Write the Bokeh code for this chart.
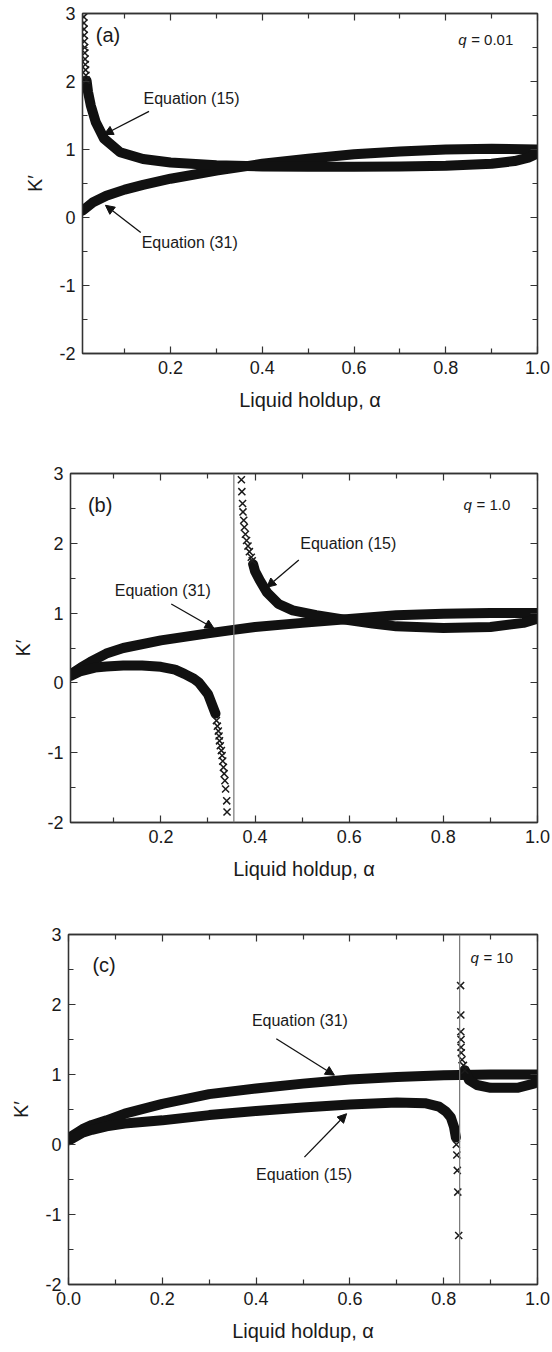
from bokeh.plotting import figure
from bokeh.layouts import column, row
from bokeh.models import (LinearAxis, FixedTicker, PrintfTickFormatter, CustomJSTickFormatter,
                          Range1d, Span, Arrow, NormalHead, Label)
from bokeh.embed import file_html
from bokeh.resources import INLINE

FONT = "Liberation Sans"
INK = "#111111"
AX = "#333333"

# ---------------- data ----------------
x_ticks_ab = [0.2, 0.4, 0.6, 0.8, 1.0]
x_ticks_c = [0.0, 0.2, 0.4, 0.6, 0.8, 1.0]
x_minor = [0.1, 0.3, 0.5, 0.7, 0.9]
y_ticks = [-2, -1, 0, 1, 2, 3]
y_minor = [-1.5, -0.5, 0.5, 1.5, 2.5]

# panel (a)  q = 0.01
a_eq31_alpha = [0.008, 0.03, 0.06, 0.10, 0.14, 0.20, 0.30, 0.40, 0.50, 0.60, 0.70, 0.80, 0.90, 1.00]
a_eq31_k = [0.10, 0.22, 0.32, 0.41, 0.48, 0.57, 0.69, 0.79, 0.865, 0.93, 0.97, 1.00, 1.01, 1.00]
a_eq15_alpha = [0.017, 0.020, 0.026, 0.037, 0.055, 0.09, 0.14, 0.20, 0.30, 0.40, 0.50, 0.60, 0.70, 0.80, 0.90, 0.95, 0.98, 1.00]
a_eq15_k = [2.01, 1.85, 1.65, 1.40, 1.16, 0.96, 0.86, 0.81, 0.77, 0.75, 0.745, 0.745, 0.75, 0.76, 0.79, 0.83, 0.88, 0.94]
a_eq15_pts_alpha = [0.0108, 0.0111, 0.0114, 0.0118, 0.0122, 0.0126, 0.0131, 0.0136, 0.0142, 0.0148, 0.0155, 0.0162]
a_eq15_pts_k = [2.95, 2.86, 2.77, 2.68, 2.59, 2.50, 2.42, 2.33, 2.25, 2.17, 2.09, 2.02]

# panel (b)  q = 1.0
b_asymptote = 0.355
b_eq31_alpha = [0.008, 0.03, 0.05, 0.084, 0.12, 0.20, 0.30, 0.354, 0.40, 0.50, 0.60, 0.70, 0.80, 0.90, 1.00]
b_eq31_k = [0.12, 0.22, 0.30, 0.42, 0.50, 0.61, 0.71, 0.76, 0.80, 0.86, 0.915, 0.97, 0.99, 1.00, 1.00]
b_eq15_left_alpha = [0.008, 0.03, 0.06, 0.084, 0.12, 0.16, 0.20, 0.23, 0.25, 0.27, 0.28, 0.30, 0.316]
b_eq15_left_k = [0.10, 0.17, 0.22, 0.235, 0.25, 0.25, 0.23, 0.19, 0.13, 0.06, 0.01, -0.16, -0.44]
b_eq15_right_alpha = [0.396, 0.40, 0.41, 0.425, 0.45, 0.48, 0.53, 0.587, 0.65, 0.70, 0.80, 0.90, 0.97, 1.00]
b_eq15_right_k = [1.70, 1.60, 1.47, 1.30, 1.13, 1.04, 0.97, 0.91, 0.85, 0.81, 0.785, 0.80, 0.86, 0.92]
b_eq15_low_pts_alpha = [0.3405, 0.3398, 0.3375, 0.336, 0.3344, 0.3329, 0.3314, 0.330, 0.3285, 0.3262, 0.3245, 0.3235, 0.322, 0.320, 0.318]
b_eq15_low_pts_k = [-1.85, -1.69, -1.52, -1.40, -1.30, -1.21, -1.12, -1.04, -0.97, -0.90, -0.83, -0.76, -0.69, -0.62, -0.54]
b_eq15_up_pts_alpha = [0.371, 0.372, 0.3735, 0.3744, 0.376, 0.3773, 0.3795, 0.382, 0.385, 0.388, 0.392, 0.394]
b_eq15_up_pts_k = [2.91, 2.74, 2.57, 2.45, 2.33, 2.23, 2.13, 2.04, 1.96, 1.88, 1.80, 1.75]

# panel (c)  q = 10
c_asymptote = 0.834
c_eq31_alpha = [0.002, 0.03, 0.05, 0.081, 0.12, 0.20, 0.30, 0.40, 0.50, 0.60, 0.70, 0.80, 0.90, 1.00]
c_eq31_k = [0.10, 0.22, 0.28, 0.345, 0.44, 0.58, 0.72, 0.80, 0.87, 0.93, 0.965, 0.99, 1.00, 1.00]
c_eq15_left_alpha = [0.002, 0.03, 0.05, 0.081, 0.12, 0.20, 0.30, 0.40, 0.50, 0.60, 0.70, 0.76, 0.79, 0.805, 0.815, 0.822, 0.826]
c_eq15_left_k = [0.06, 0.17, 0.21, 0.26, 0.30, 0.345, 0.42, 0.48, 0.53, 0.57, 0.60, 0.59, 0.54, 0.47, 0.39, 0.25, 0.10]
c_eq15_right_alpha = [0.845, 0.848, 0.854, 0.871, 0.90, 0.957, 0.992, 1.00]
c_eq15_right_k = [1.06, 1.02, 0.92, 0.85, 0.81, 0.81, 0.87, 0.94]
c_eq15_low_pts_alpha = [0.827, 0.828, 0.829, 0.830, 0.832]
c_eq15_low_pts_k = [0.0, -0.15, -0.37, -0.68, -1.30]
c_eq15_up_pts_alpha = [0.836, 0.8365, 0.8365, 0.837, 0.837, 0.8375, 0.839, 0.842, 0.845]
c_eq15_up_pts_k = [2.27, 1.85, 1.61, 1.50, 1.39, 1.31, 1.21, 1.13, 1.06]

# annotation texts
panel_tags = ["(a)", "(b)", "(c)"]
q_texts = ["= 0.01", "= 1.0", "= 10"]
eq15_text = "Equation (15)"
eq31_text = "Equation (31)"
x_label = "Liquid holdup, \u03b1"
y_label = "K\u2032"


def style_axis(ax, show_labels=True):
    ax.major_tick_in = 7
    ax.major_tick_out = 0
    ax.minor_tick_in = 5
    ax.minor_tick_out = 0
    ax.axis_line_color = AX
    ax.axis_line_width = 1.3
    ax.major_tick_line_color = AX
    ax.minor_tick_line_color = AX
    ax.major_tick_line_width = 1.2
    ax.minor_tick_line_width = 1.2
    if show_labels:
        ax.major_label_text_font = FONT
        ax.major_label_text_font_size = "18px"
        ax.major_label_text_color = "#1a1a1a"
        ax.major_label_standoff = 7
        ax.axis_label_text_font = FONT
        ax.axis_label_text_font_size = "20px"
        ax.axis_label_text_font_style = "normal"
        ax.axis_label_text_color = "#1a1a1a"
    else:
        ax.formatter = CustomJSTickFormatter(code="return '';")
        ax.major_label_standoff = 0


def make_panel(height, x_start, xt, border_left, border_top, border_bottom):
    p = figure(width=552, height=height, x_range=Range1d(x_start, 1.0), y_range=Range1d(-2, 3),
               output_backend="svg", toolbar_location=None,
               min_border_left=border_left, min_border_right=15,
               min_border_top=border_top, min_border_bottom=border_bottom)
    p.grid.visible = False
    p.outline_line_color = AX
    p.outline_line_width = 1.3
    p.background_fill_color = "white"
    p.border_fill_color = "white"

    xa = p.xaxis[0]
    xa.ticker = FixedTicker(ticks=xt, minor_ticks=x_minor)
    xa.formatter = PrintfTickFormatter(format="%.1f")
    xa.axis_label = x_label
    style_axis(xa)
    xa.axis_label_standoff = 12

    ya = p.yaxis[0]
    ya.ticker = FixedTicker(ticks=y_ticks, minor_ticks=y_minor)
    ya.formatter = PrintfTickFormatter(format="%d")
    ya.axis_label = y_label
    style_axis(ya)
    ya.axis_label_standoff = 10

    top = LinearAxis(ticker=FixedTicker(ticks=xt, minor_ticks=x_minor))
    style_axis(top, show_labels=False)
    p.add_layout(top, "above")
    right = LinearAxis(ticker=FixedTicker(ticks=y_ticks, minor_ticks=y_minor))
    style_axis(right, show_labels=False)
    p.add_layout(right, "right")
    return p


def band(p, xs, ys):
    p.line(xs, ys, line_color=INK, line_width=10, line_cap="round", line_join="round")


def pts(p, xs, ys):
    p.scatter(xs, ys, marker="x", size=10, line_color="#1a1a1a", line_width=1.5)


def text(p, x, y, t, size="16px", style="normal"):
    p.add_layout(Label(x=x, y=y, text=t, text_font=FONT, text_font_size=size,
                       text_font_style=style, text_color="#1a1a1a",
                       text_align="left", text_baseline="middle"))


def q_label(p, x, y, t):
    text(p, x, y, "q", size="15px", style="italic")
    p.add_layout(Label(x=x, y=y, x_offset=13, text=t, text_font=FONT, text_font_size="15px",
                       text_color="#1a1a1a", text_align="left", text_baseline="middle"))


def arrow(p, x0, y0, x1, y1):
    p.add_layout(Arrow(end=NormalHead(size=9, fill_color="#111111", line_color="#111111", line_width=1),
                       x_start=x0, y_start=y0, x_end=x1, y_end=y1,
                       line_color="#111111", line_width=1.3))


# ---- panel (a)
pa = make_panel(455, 0.008, x_ticks_ab, 82, 13, 102)
band(pa, a_eq31_alpha, a_eq31_k)
band(pa, a_eq15_alpha, a_eq15_k)
pts(pa, a_eq15_pts_alpha, a_eq15_pts_k)
text(pa, 0.037, 2.69, panel_tags[0], size="20px")
q_label(pa, 0.827, 2.62, q_texts[0])
text(pa, 0.141, 1.745, eq15_text)
arrow(pa, 0.153, 1.56, 0.055, 1.22)
text(pa, 0.137, -0.365, eq31_text)
arrow(pa, 0.135, -0.22, 0.058, 0.18)

# ---- panel (b)
pb = make_panel(455, 0.008, x_ticks_ab, 70, 18, 88)
pb.add_layout(Span(location=b_asymptote, dimension="height", line_color="#777777", line_width=1.2))
band(pb, b_eq31_alpha, b_eq31_k)
band(pb, b_eq15_left_alpha, b_eq15_left_k)
band(pb, b_eq15_right_alpha, b_eq15_right_k)
pts(pb, b_eq15_low_pts_alpha, b_eq15_low_pts_k)
pts(pb, b_eq15_up_pts_alpha, b_eq15_up_pts_k)
text(pb, 0.045, 2.555, panel_tags[1], size="20px")
q_label(pb, 0.843, 2.56, q_texts[1])
text(pb, 0.496, 2.0, eq15_text)
arrow(pb, 0.493, 1.76, 0.425, 1.37)
text(pb, 0.102, 1.32, eq31_text)
arrow(pb, 0.222, 1.13, 0.313, 0.78)

# ---- panel (c)
pc = make_panel(440, 0.0, x_ticks_c, 68, 24, 66)
pc.add_layout(Span(location=c_asymptote, dimension="height", line_color="#777777", line_width=1.2))
band(pc, c_eq31_alpha, c_eq31_k)
band(pc, c_eq15_left_alpha, c_eq15_left_k)
band(pc, c_eq15_right_alpha, c_eq15_right_k)
pts(pc, c_eq15_low_pts_alpha, c_eq15_low_pts_k)
pts(pc, c_eq15_up_pts_alpha, c_eq15_up_pts_k)
text(pc, 0.051, 2.57, panel_tags[2], size="20px")
q_label(pc, 0.857, 2.665, q_texts[2])
text(pc, 0.391, 1.775, eq31_text)
arrow(pc, 0.443, 1.51, 0.567, 0.99)
text(pc, 0.40, -0.43, eq15_text)
arrow(pc, 0.503, -0.18, 0.593, 0.44)

layout = column(row(pa), row(pb), row(pc), spacing=0)
open("out.html", "w").write(file_html(layout, INLINE))
